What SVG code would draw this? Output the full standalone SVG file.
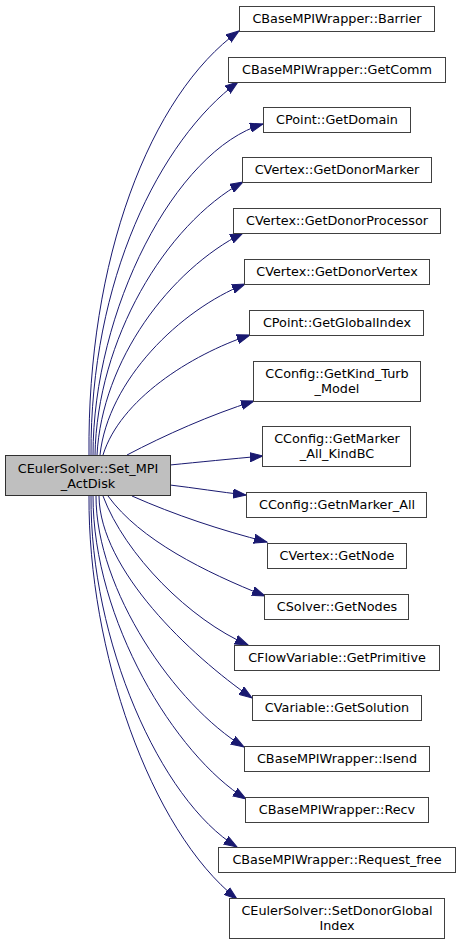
<svg xmlns="http://www.w3.org/2000/svg" width="460" height="945" viewBox="0 0 460 945">
<style>
.n rect{fill:#ffffff;stroke:#404040;stroke-width:1}
.m rect{fill:#bfbfbf;stroke:#303030;stroke-width:1}
text{font-family:"DejaVu Sans",sans-serif;font-size:12.8px;fill:#000;text-anchor:middle}
.e path{fill:none;stroke:#191970;stroke-width:1;marker-end:url(#ah)}
</style>
<defs>
<marker id="ah" markerWidth="14" markerHeight="10" refX="13" refY="5" orient="auto" markerUnits="userSpaceOnUse">
<path d="M0,0.5 L13,5 L0,9.5 z" fill="#191970" stroke="#191970" stroke-width="1"/>
</marker>
</defs>
<rect width="460" height="945" fill="#ffffff"/>
<g id="edges" class="e">
<path d="M89,455 C87,260 150,95 239,31"/>
<path d="M91,455 C90,280 160,140 238,82"/>
<path d="M93,455 C93,310 175,150 263,124"/>
<path d="M95,455 C97,340 165,225 243,182"/>
<path d="M97,455 C102,360 170,270 243,233"/>
<path d="M100,455 C108,380 180,310 245,284"/>
<path d="M103,455 C120,400 190,355 250,335"/>
<path d="M127,455 C165,435 210,415 254,401"/>
<path d="M170,465 C200,462 230,459 263,456"/>
<path d="M170,485 C195,488 220,492 246,495"/>
<path d="M132,496 C175,515 220,530 267,542"/>
<path d="M108,496 C140,540 205,572 265,596"/>
<path d="M103,496 C125,555 190,620 248,645"/>
<path d="M99,496 C100,570 190,655 252,698"/>
<path d="M96,496 C96,590 175,705 244,747"/>
<path d="M93,496 C93,620 175,755 246,799"/>
<path d="M91,496 C90,640 160,800 237,847"/>
<path d="M89,496 C88,650 150,830 237,899"/>
</g>
<g id="node1" class="m"><rect x="5.5" y="455.5" width="165" height="40"/><text x="88" y="472.5">CEulerSolver::Set_MPI</text><text x="88" y="487.5">_ActDisk</text></g>
<g id="node2" class="n"><rect x="239.5" y="6.5" width="195" height="25"/><text x="337" y="22.5">CBaseMPIWrapper::Barrier</text></g>
<g id="node3" class="n"><rect x="228.5" y="57.5" width="217" height="25"/><text x="337" y="73.5">CBaseMPIWrapper::GetComm</text></g>
<g id="node4" class="n"><rect x="263.5" y="107.5" width="147" height="25"/><text x="337" y="123.5">CPoint::GetDomain</text></g>
<g id="node5" class="n"><rect x="242.5" y="157.5" width="189" height="25"/><text x="337" y="173.5">CVertex::GetDonorMarker</text></g>
<g id="node6" class="n"><rect x="233.5" y="208.5" width="207" height="25"/><text x="337" y="224.5">CVertex::GetDonorProcessor</text></g>
<g id="node7" class="n"><rect x="244.5" y="259.5" width="185" height="25"/><text x="337" y="275.5">CVertex::GetDonorVertex</text></g>
<g id="node8" class="n"><rect x="249.5" y="310.5" width="174" height="25"/><text x="337" y="326.5">CPoint::GetGlobalIndex</text></g>
<g id="node9" class="n"><rect x="253.5" y="361.5" width="167" height="40"/><text x="337" y="377.5">CConfig::GetKind_Turb</text><text x="337" y="392.5">_Model</text></g>
<g id="node10" class="n"><rect x="262.5" y="426.5" width="148" height="40"/><text x="337" y="442.5">CConfig::GetMarker</text><text x="337" y="457.5">_All_KindBC</text></g>
<g id="node11" class="n"><rect x="246.5" y="492.5" width="180" height="25"/><text x="337" y="508.5">CConfig::GetnMarker_All</text></g>
<g id="node12" class="n"><rect x="267.5" y="543.5" width="139" height="25"/><text x="337" y="559.5">CVertex::GetNode</text></g>
<g id="node13" class="n"><rect x="264.5" y="594.5" width="144" height="25"/><text x="337" y="610.5">CSolver::GetNodes</text></g>
<g id="node14" class="n"><rect x="234.5" y="645.5" width="205" height="25"/><text x="337" y="661.5">CFlowVariable::GetPrimitive</text></g>
<g id="node15" class="n"><rect x="252.5" y="695.5" width="169" height="25"/><text x="337" y="711.5">CVariable::GetSolution</text></g>
<g id="node16" class="n"><rect x="244.5" y="746.5" width="185" height="25"/><text x="337" y="762.5">CBaseMPIWrapper::Isend</text></g>
<g id="node17" class="n"><rect x="245.5" y="797.5" width="183" height="25"/><text x="337" y="813.5">CBaseMPIWrapper::Recv</text></g>
<g id="node18" class="n"><rect x="218.5" y="847.5" width="237" height="25"/><text x="337" y="863.5">CBaseMPIWrapper::Request_free</text></g>
<g id="node19" class="n"><rect x="229.5" y="898.5" width="215" height="40"/><text x="337" y="914.5">CEulerSolver::SetDonorGlobal</text><text x="337" y="929.5">Index</text></g>
</svg>
